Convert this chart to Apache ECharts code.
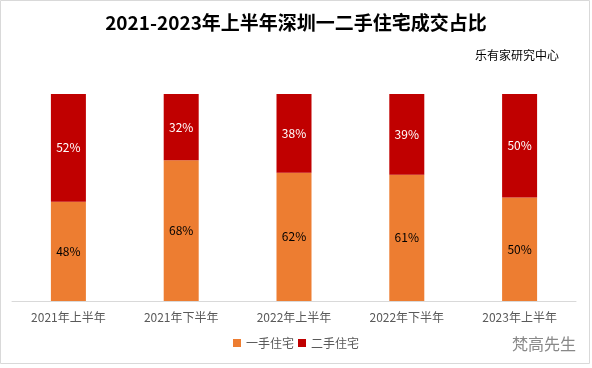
<!DOCTYPE html>
<html><head><meta charset="utf-8">
<script src="https://cdn.jsdelivr.net/npm/echarts@6/dist/echarts.min.js"></script>
<style>html,body{margin:0;padding:0;background:#fff}#c{width:592px;height:368px}</style>
</head><body><div id="c"></div>
<script>
const categories = ['2021年上半年','2021年下半年','2022年上半年','2022年下半年','2023年上半年'];
const firstHand = [48, 68, 62, 61, 50];
const secondHand = [52, 32, 38, 39, 50];
const seriesNames = ['一手住宅','二手住宅'];
const font = '"Microsoft YaHei","Noto Sans CJK SC",sans-serif';
const chart = echarts.init(document.getElementById('c'));
chart.setOption({
  animation:false,
  title:[{text:'2021-2023年上半年深圳一二手住宅成交占比',left:'center',top:8,
    textStyle:{fontSize:19,fontWeight:'bold',color:'#000',fontFamily:font}},
    {text:'乐有家研究中心',right:28,top:44,textStyle:{fontSize:12,fontWeight:'normal',color:'#000',fontFamily:font}}],
  legend:{bottom:14,left:'center',itemWidth:8,itemHeight:8,itemGap:4,icon:'rect',
    textStyle:{fontSize:12,color:'#595959',fontFamily:font},data:seriesNames},
  grid:{left:12,right:16,top:94,bottom:67},
  xAxis:{type:'category',data:categories,axisLine:{lineStyle:{color:'#d9d9d9'}},axisTick:{show:false},
    axisLabel:{color:'#595959',fontSize:12,fontFamily:font,margin:10}},
  yAxis:{type:'value',min:0,max:100,show:false,splitLine:{show:false}},
  series:[
    {name:seriesNames[0],type:'bar',stack:'a',data:firstHand,barWidth:35,itemStyle:{color:'#ED7D31'},
     label:{show:true,position:'inside',formatter:'{c}%',color:'#000',fontSize:12,fontFamily:font}},
    {name:seriesNames[1],type:'bar',stack:'a',data:secondHand,barWidth:35,itemStyle:{color:'#C00000'},
     label:{show:true,position:'inside',formatter:'{c}%',color:'#fff',fontSize:12,fontFamily:font}}
  ],
  graphic:[
    {type:'rect',shape:{x:0.5,y:0.5,width:589,height:363},style:{fill:'none',stroke:'#d9d9d9',lineWidth:1},silent:true},
    {type:'text',right:16,bottom:16,style:{text:'梵高先生',fill:'#888',font:'16px '+font}}
  ]
});
</script></body></html>
